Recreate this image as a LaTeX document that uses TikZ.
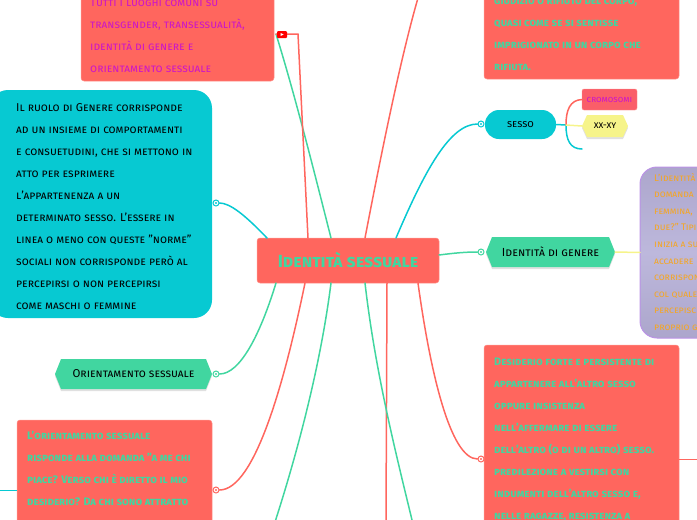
\documentclass[tikz,border=0pt]{standalone}
\usepackage{fontspec}
\setmainfont{Fira Sans}[Numbers=Lining]
\usetikzlibrary{calc}
\definecolor{red1}{HTML}{FF665E}
\definecolor{teal1}{HTML}{07C9D2}
\definecolor{green1}{HTML}{41D6A0}
\definecolor{green2}{HTML}{38C892}
\definecolor{yellow1}{HTML}{F6F48A}
\definecolor{magenta1}{HTML}{CC16C8}
\definecolor{orange1}{HTML}{F5A623}
\definecolor{purple1}{HTML}{BDB8DC}
\definecolor{purple2}{HTML}{ACA6CC}
\definecolor{edge1}{HTML}{BB92E6}
\tikzset{
  x=1pt,y=-1pt,
  box/.style={rectangle,minimum width=#1,inner sep=0,outer sep=0},
  redbox/.style={fill=red1,draw=red1!70!white,line width=.5pt,rounded corners=3pt},
  hexlabel/.style={rectangle,inner sep=0,outer sep=0,text=black},
  txt/.style={anchor=north west,inner sep=0,align=left,font=\fontsize{11.4}{22}\selectfont\scshape},
  tg/.style={text=green1,font=\fontsize{10.9}{22}\selectfont\scshape\bfseries},
  wire/.style={line width=1.5pt,line cap=round},
  dot/.style={circle,draw=#1,fill=white,line width=1pt,minimum size=6pt,inner sep=0,
    path picture={\fill[#1] (path picture bounding box.center) circle (1.2pt);}},
}
% name, cx, cy, half width, half height, tip, colour, font size, text
\newcommand{\hexnode}[9]{%
  \fill[black,opacity=.12] (#2-#4,#3+2) -- (#2-#4+#6,#3-#5+2) -- (#2+#4-#6,#3-#5+2) -- (#2+#4,#3+2) -- (#2+#4-#6,#3+#5+2) -- (#2-#4+#6,#3+#5+2) -- cycle;
  \fill[#7] (#2-#4,#3) -- (#2-#4+#6,#3-#5) -- (#2+#4-#6,#3-#5) -- (#2+#4,#3) -- (#2+#4-#6,#3+#5) -- (#2-#4+#6,#3+#5) -- cycle;
  \node[hexlabel,minimum width=2*#4 pt,minimum height=2*#5 pt,font=\fontsize{#8}{12}\selectfont\scshape] (#1) at (#2,#3) {#9};
}
\begin{document}
\begin{tikzpicture}
\useasboundingbox (0,0) rectangle (697,520);
\clip (0,0) rectangle (697,520);
% boxes
\node[redbox,box=193pt,minimum height=101pt] (tl) at (177.5,30.5) {};
\node[fill=teal1,rounded corners=18pt,box=222pt,minimum height=228pt] (role) at (101,204) {};
\node[redbox,box=182pt,minimum height=45pt] (center) at (348,260.5) {};
\node[redbox,box=195pt,minimum height=99pt] (tr) at (581.5,29.5) {};
\node[fill=teal1,rounded corners=14pt,box=71pt,minimum height=29pt,font=\fontsize{10.5}{12}\selectfont\scshape] (sesso) at (520.5,124.5) {sesso};
\node[fill=red1!90!magenta1,draw=red1!70!white,line width=.4pt,rounded corners=2pt,box=55pt,minimum height=21pt,text=magenta1,font=\fontsize{9}{10}\selectfont\scshape] (crom) at (609.5,99.5) {cromosomi};
\hexnode{xx}{605}{126}{23}{11}{5}{yellow1}{10}{xx-xy}
\hexnode{genere}{550.5}{252}{64.5}{15}{6}{green1}{11.7}{Identità di genere}
\node[top color=purple2,bottom color=purple2,middle color=purple1,draw=edge1,line width=1pt,rounded corners=17pt,box=90pt,minimum height=171pt] (purple) at (685,252.5) {};
\node[redbox,box=195pt,minimum height=200pt] (lr) at (581.5,445) {};
\hexnode{orient}{133.5}{374}{78.5}{15}{6}{green1}{11.4}{Orientamento sessuale}
\node[redbox,box=195pt,minimum height=130pt] (ll) at (114.5,485) {};
% attachment points
\node[dot=teal1] (d1) at (216,203) {};
\node[dot=teal1] (d2) at (481,124) {};
\node[dot=green1] (d3) at (481,252) {};
\node[dot=green1] (d4) at (216,374) {};
\node[dot=red1] (d5) at (216,490) {};
\node[dot=red1] (d6) at (481,459) {};
\coordinate (top1) at (418,-2);
\coordinate (b1) at (275,522);
\coordinate (b2) at (386,522);
\coordinate (b3) at (412.5,522);
\coordinate (r1) at (699,459);
\coordinate (l1) at (-2,490);
\coordinate (sj) at (566,125);
\coordinate (se) at (582,149);
\coordinate (tc) at (298,34);
\coordinate (yl) at (276,34);
% connectors
\draw[wire,teal1] ($(center.north west)+(10,0)$) .. controls (245,215) and (230,203) .. (d1);
\draw[wire,green1] ($(center.north west)+(74,0)$) .. controls (315,175) and (295,95) .. (yl);
\draw[wire,red1] ($(center.north west)+(51,0)$) -- (tc) -- (yl);
\draw[wire,red1] ($(center.north west)+(108,0)$) .. controls (380,160) and (400,60) .. (top1);
\draw[wire,teal1] ($(center.north west)+(139,0)$) .. controls (425,170) and (450,124) .. (d2);
\draw[wire,green1] ($(center.north east)+(0,17)$) .. controls (455,253) and (465,252) .. (d3);
\draw[wire,yellow1] (genere.east) -- (purple.west);
\draw[wire,teal1] (sesso.east) -- (sj) .. controls (566,140) and (570,149) .. (se);
\draw[wire,red1] (sj) .. controls (566,110) and (570,100) .. (crom.west);
\draw[wire,yellow1] (sj) -- (xx.west);
\draw[wire,green1] ($(center.south west)+(19,0)$) .. controls (260,335) and (240,374) .. (d4);
\draw[wire,red1] ($(center.south west)+(48,0)$) .. controls (285,380) and (255,490) .. (d5);
\draw[wire,green1] ($(center.south west)+(74,0)$) .. controls (320,370) and (295,460) .. (b1);
\draw[wire,red1] ($(center.south west)+(130,0)$) -- (b2);
\draw[wire,green1] ($(center.south west)+(108,0)$) .. controls (375,370) and (395,450) .. (b3);
\draw[wire,red1] ($(center.south east)+(-21,0)$) .. controls (430,370) and (450,459) .. (d6);
\draw[red1,line width=1pt] (lr.east |- d6) -- (r1);
\draw[teal1,line width=1pt] (l1) -- (ll.west |- d5);
\node[fill=red,rounded corners=1pt,minimum width=10pt,minimum height=7pt,inner sep=0] (yt) at (282,34.5) {};
\fill[white] (280.7,33) -- (283.7,34.5) -- (280.7,36) -- cycle;
% texts
\node[txt,text=magenta1] (tlt) at (90,-2) {Tutti i luoghi comuni su\\transgender, transessualità,\\identità di genere e\\orientamento sessuale};
\node[txt,text=black] (rolet) at (16,103) {Il ruolo di Genere corrisponde\\ad un insieme di comportamenti\\e consuetudini, che si mettono in\\atto per esprimere\\l'appartenenza a un\\determinato sesso. L'essere in\\linea o meno con queste "norme"\\sociali non corrisponde però al\\percepirsi o non percepirsi\\come maschi o femmine};
\node[anchor=center,inner sep=0,text=green1,font=\fontsize{17.6}{20}\selectfont\scshape\bfseries] (ct) at (center) {Identità sessuale};
\node[txt,tg] (trt) at (494,-2) {giudizio o rifiuto del corpo,\\quasi come se si sentisse\\imprigionato in un corpo che\\rifiuta.};
\node[txt,tg] (lrt) at (494,358) {Desiderio forte e persistente di\\appartenere all'altro sesso\\oppure insistenza\\nell'affermare di essere\\dell'altro (o di un altro) sesso.\\predilezione a vestirsi con\\indumenti dell'altro sesso e,\\nelle ragazze, resistenza a};
\node[txt,tg] (llt) at (27,431) {L'orientamento sessuale\\risponde alla domanda "a me chi\\piace? Verso chi è diretto il mio\\desiderio? Da chi sono attratto};
\node[txt,text=orange1,font=\fontsize{9.6}{16.6}\selectfont\scshape] (pt) at (654,173) {L'identità\\domanda\\femmina,\\due?" Tipi\\inizia a su\\accadere\\corrispon\\col quale\\percepisc\\proprio g};
\end{tikzpicture}
\end{document}
